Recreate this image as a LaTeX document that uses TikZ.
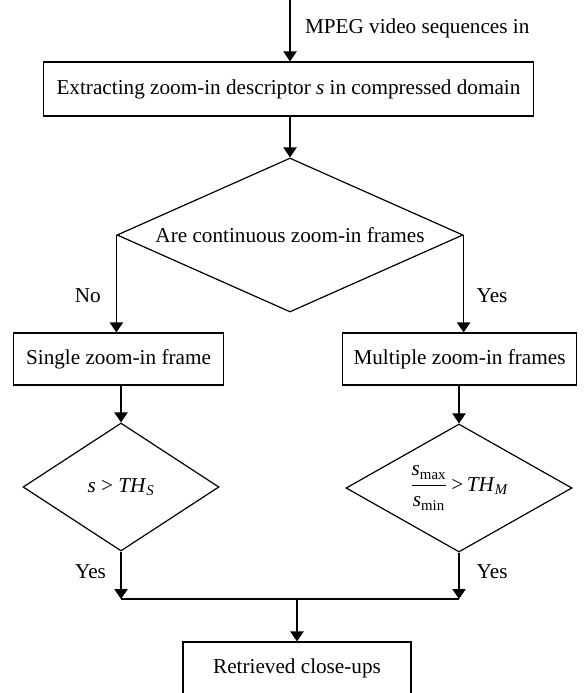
\documentclass[tikz,border=0pt]{standalone}
\usepackage{fontspec}
\setmainfont{Liberation Serif}
\usepackage{amsmath}
\usetikzlibrary{shapes.geometric,arrows.meta}
\begin{document}
\begin{tikzpicture}[x=.75pt,y=-.75pt,line width=.9pt,font=\fontsize{15.9}{19}\selectfont,
 box/.style={draw,inner sep=0pt,minimum height=39pt},
 test/.style={draw,diamond,inner sep=0pt},
 arr/.style={-{Triangle[length=7.5pt,width=10pt]}}]
\useasboundingbox (0,0) rectangle (588,693);
% boxes and tests
\coordinate (in) at (290,0);
\node[box,minimum width=368pt,minimum height=40.5pt] (extract) at (288.5,89) {Extracting zoom-in descriptor \textit{s} in compressed domain};
\node[test,aspect=2.2,minimum width=259.5pt,minimum height=115.5pt] (cont) at (290,235) {Are continuous zoom-in frames};
\node[box,minimum width=158pt] (single) at (118.5,359) {Single zoom-in frame};
\node[box,minimum width=176pt] (multi) at (459.5,359) {Multiple zoom-in frames};
\node[test,aspect=1.5,minimum width=147pt,minimum height=96pt] (ths) at (121,487) {\textit{s} > \textit{TH}$_{\textit{S}}$};
\node[test,aspect=1.8,minimum width=169.5pt,minimum height=96pt] (thm) at (459,488) {$\dfrac{\textit{s}_{\text{max}}}{\textit{s}_{\text{min}}}$\,>\,\textit{TH}$_{\textit{M}}$};
\node[box,minimum width=171pt,minimum height=39pt] (close) at (297,668) {Retrieved close-ups};
\coordinate (join) at (297,599);
% connectors
\draw[arr] (in) -- (in |- extract.north) node[pos=.47,right=7.5pt] {MPEG video sequences in};
\draw[arr] (cont.north |- extract.south) -- (cont.north);
\draw[arr] (cont.west) -- (cont.west |- single.north) node[pos=.62,left=8pt] {No};
\draw[arr] (cont.east) -- (cont.east |- multi.north) node[pos=.62,right=6pt] {Yes};
\draw[arr] (ths.north |- single.south) -- (ths.north);
\draw[arr] (thm.north |- multi.south) -- (thm.north);
\draw[arr] (ths.south) -- (ths.south |- join) node[pos=.42,left=7.5pt] {Yes};
\draw[arr] (thm.south) -- (thm.south |- join) node[pos=.42,right=9.5pt] {Yes};
\draw (ths.south |- join) -- (thm.south |- join);
\draw[arr] (join) -- (close.north);
\end{tikzpicture}
\end{document}
